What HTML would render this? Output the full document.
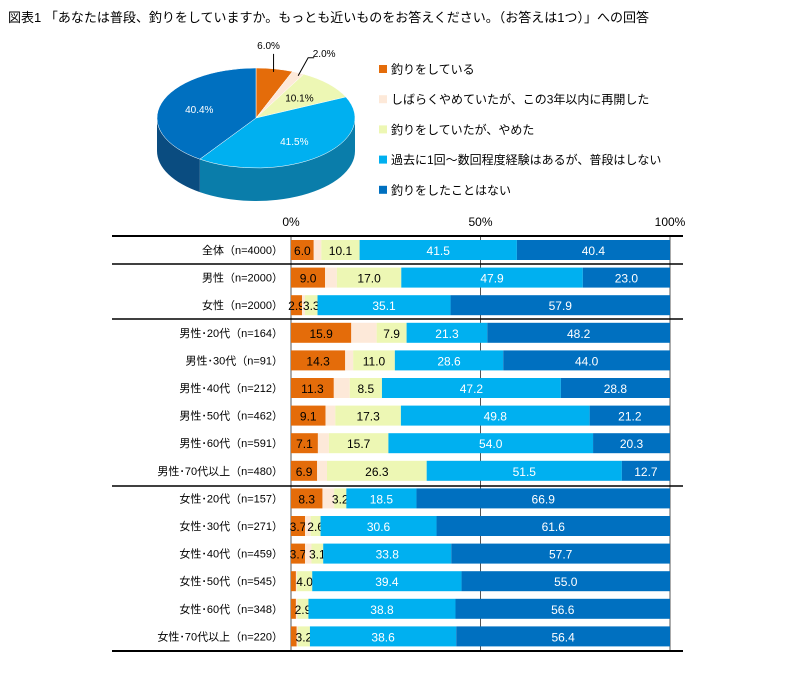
<!DOCTYPE html>
<html><head><meta charset="utf-8"><style>
body{margin:0;background:#fff;}
svg{display:block;font-family:"Liberation Sans","Noto Sans CJK JP",sans-serif;}
</style></head><body>
<svg id="c" width="810" height="678" viewBox="0 0 810 678">
<text x="8" y="22" font-size="13" fill="#000">図表1 「あなたは普段、釣りをしていますか。もっとも近いものをお答えください。（お答えは1つ）」への回答</text>
<g id="pie"></g>
<g id="legend"></g>
<g id="bars"></g>
</svg>
<script>
const seriesNames=["釣りをしている","しばらくやめていたが、この3年以内に再開した","釣りをしていたが、やめた","過去に1回～数回程度経験はあるが、普段はしない","釣りをしたことはない"];
const colors=["#E46C0A","#FDE9D9","#EDF7B4","#00B0F0","#0070C0"];
const sideColors=["#A04A05","#C9B2A4","#B5BE80","#0A7DAA","#0A4C80"];
const pieValues=[6.0,2.0,10.1,41.5,40.4];
const pieLabels=["6.0%","2.0%","10.1%","41.5%","40.4%"];
const categories=["全体（n=4000）","男性（n=2000）","女性（n=2000）","男性･20代（n=164）","男性･30代（n=91）","男性･40代（n=212）","男性･50代（n=462）","男性･60代（n=591）","男性･70代以上（n=480）","女性･20代（n=157）","女性･30代（n=271）","女性･40代（n=459）","女性･50代（n=545）","女性･60代（n=348）","女性･70代以上（n=220）"];
const s1=[6.0,9.0,2.9,15.9,14.3,11.3,9.1,7.1,6.9,8.3,3.7,3.7,1.3,1.3,1.5];
const s2=[2.0,3.1,0.8,6.7,2.1,4.2,2.6,2.9,2.6,3.1,1.5,1.7,0.3,0.4,0.3];
const s3=[10.1,17.0,3.3,7.9,11.0,8.5,17.3,15.7,26.3,3.2,2.6,3.1,4.0,2.9,3.2];
const s4=[41.5,47.9,35.1,21.3,28.6,47.2,49.8,54.0,51.5,18.5,30.6,33.8,39.4,38.8,38.6];
const s5=[40.4,23.0,57.9,48.2,44.0,28.8,21.2,20.3,12.7,66.9,61.6,57.7,55.0,56.6,56.4];
const ticks=["0%","50%","100%"];
const tickVals=[0,50,100];
{
const NS="http://www.w3.org/2000/svg";
function mk(tag,attrs,parent){const e=document.createElementNS(NS,tag);for(const k in attrs)e.setAttribute(k,attrs[k]);parent.appendChild(e);return e;}

const pie=document.getElementById('pie');
const cx=256,cy=118,rx=99,ry=50,dep=33;
const px=a=>cx+rx*Math.sin(a);
const py=(a,d)=>cy-ry*Math.cos(a)+(d||0);
const tot=pieValues.reduce((a,b)=>a+b,0);
let cum=0;const angs=[];
pieValues.forEach(v=>{const a0=cum/tot*2*Math.PI;cum+=v;angs.push([a0,cum/tot*2*Math.PI]);});
angs.forEach((g,i)=>{
  const a=Math.max(g[0],Math.PI/2),b=Math.min(g[1],3*Math.PI/2);
  if(b<=a)return;
  const d=`M${px(a)},${py(a)} A${rx},${ry} 0 0 1 ${px(b)},${py(b)} L${px(b)},${py(b,dep)} A${rx},${ry} 0 0 0 ${px(a)},${py(a,dep)} Z`;
  const p=mk('path',{d:d,fill:sideColors[i]},pie);
  
  
});
angs.forEach((g,i)=>{
  const large=(g[1]-g[0])>Math.PI?1:0;
  const d=`M${cx},${cy} L${px(g[0])},${py(g[0])} A${rx},${ry} 0 ${large} 1 ${px(g[1])},${py(g[1])} Z`;
  const p=mk('path',{d:d,fill:colors[i],stroke:'#fff','stroke-width':0.5},pie);
  
  
});
angs.forEach((g,i)=>{
  const m=(g[0]+g[1])/2;let x,y;const fill=(i>=3)?'#fff':'#000';
  if(i===0){x=px(m)-6;y=py(m)-20;mk('line',{x1:px(m)-1,y1:py(m)-15,x2:px(m)-1,y2:py(m)+3,stroke:'#000'},pie);}
  else if(i===1){x=px(m)+26;y=py(m)-16;mk('polyline',{points:`${px(m)},${py(m)+3} ${px(m)+10},${py(m)-15} ${px(m)+16},${py(m)-15}`,fill:'none',stroke:'#000'},pie);}
  else {x=cx+rx*0.6*Math.sin(m);y=cy-ry*0.6*Math.cos(m)+4;}
  const t=mk('text',{x:x,y:y,'font-size':10,'text-anchor':'middle',fill:fill},pie);
  t.textContent=pieLabels[i];
  
  
});
const lg=document.getElementById('legend');
seriesNames.forEach((n,i)=>{
  const y=69+i*30.2;
  const r=mk('rect',{x:379,y:y-4,width:8,height:8,fill:colors[i]},lg);
  
  
  const t=mk('text',{x:391,y:y+4.5,'font-size':12,fill:'#000'},lg);
  t.textContent=n;
  
  
});
const bg=document.getElementById('bars');
const X0=291,X1=670,topY=232,bottomY=651,rowY0=250,rowH=27.6,barH=20;
const xs=v=>X0+(X1-X0)*v/100;
const ys=i=>rowY0+i*rowH;
tickVals.forEach((v,i)=>{
  const t=mk('text',{x:xs(v),y:226,'font-size':12,'text-anchor':'middle',fill:'#000'},bg);
  t.textContent=ticks[i];
  
  
});
tickVals.forEach(v=>{
  const l=mk('line',{x1:xs(v),y1:topY+4,x2:xs(v),y2:bottomY,stroke:'#555','stroke-width':1},bg);
  
  
});
mk('line',{x1:xs(0),y1:topY+4,x2:xs(100),y2:topY+4,stroke:'#888'},bg);
const series=[s1,s2,s3,s4,s5];
categories.forEach((c,i)=>{
  let acc=0;
  const y=ys(i);
  series.forEach((s,k)=>{
    const v=s[i];
    const r=mk('rect',{x:xs(acc),y:y-barH/2,width:Math.max(0,xs(acc+v)-xs(acc)),height:barH,fill:colors[k]},bg);
    
    
    if(k!==1 && v>=2){
      const t=mk('text',{x:(xs(acc)+xs(acc+v))/2,y:y+5,'font-size':12,'text-anchor':'middle',fill:k>=3?'#fff':'#000'},bg);
      t.textContent=v.toFixed(1);
      
      
    }
    acc+=v;
  });
  const t=mk('text',{x:283,y:y+4,'font-size':11,'text-anchor':'end',fill:'#000'},bg);
  t.textContent=c;
  
  
});
[[236,2],[264,1.5],[319,1.5],[486,1.5],[651,2]].forEach(a=>{
  const l=mk('line',{x1:112,y1:a[0],x2:683,y2:a[0],stroke:'#000','stroke-width':a[1]},bg);
  
  
});
}
</script>
</body></html>
